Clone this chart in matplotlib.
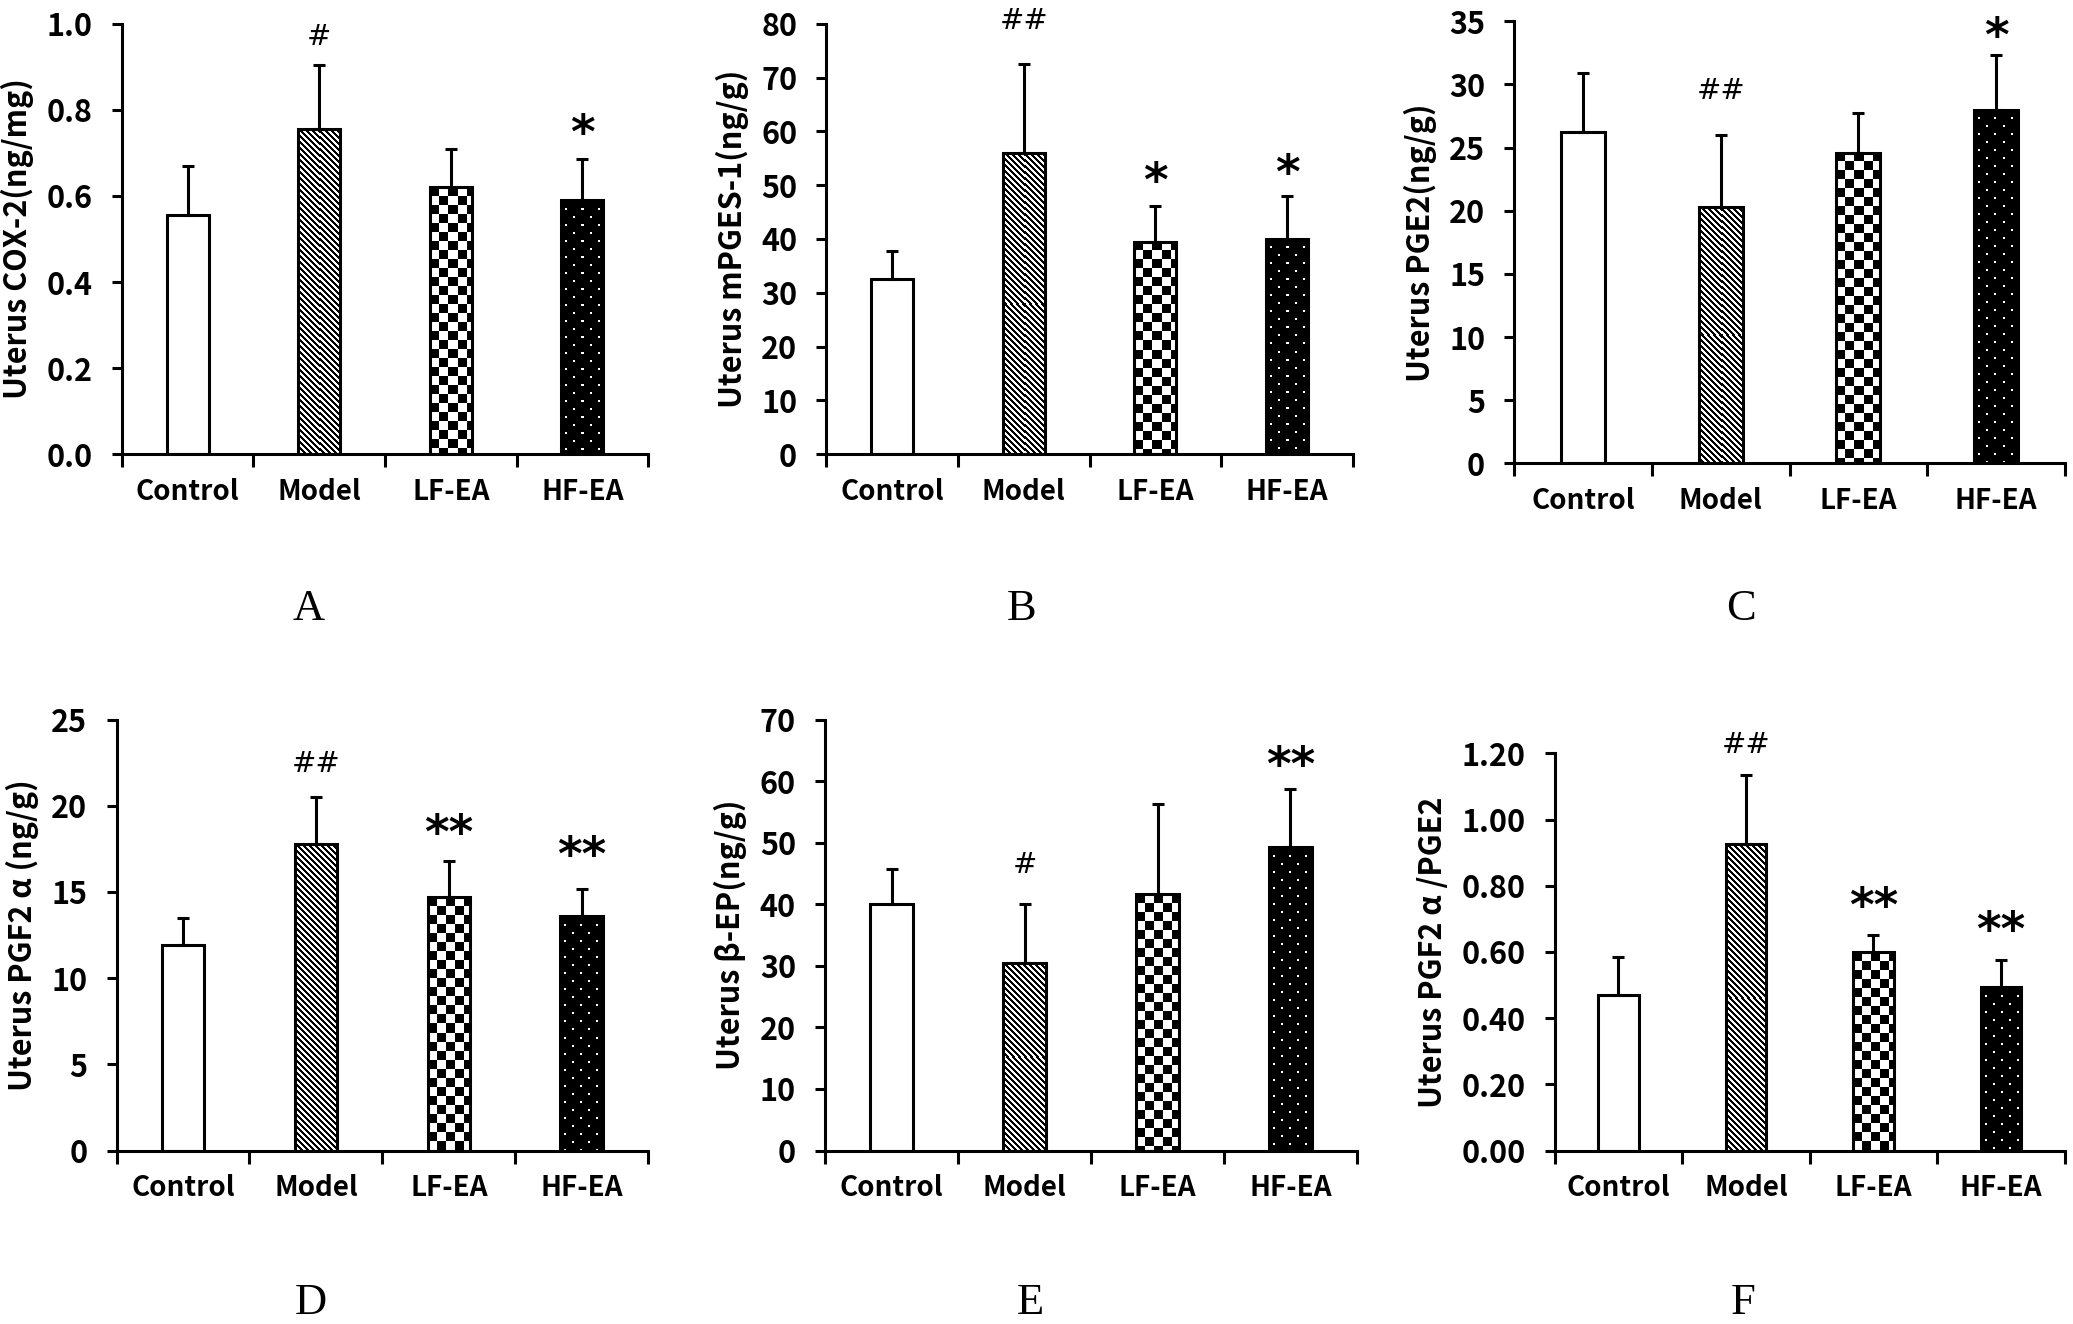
import numpy as np
import matplotlib
matplotlib.use("Agg")
import matplotlib.pyplot as plt

plt.rcParams['font.family'] = ['Noto Sans CJK SC', 'DejaVu Sans']
plt.rcParams['font.weight'] = 'bold'

groups = ["Control", "Model", "LF-EA", "HF-EA"]

# values (mean, upper error)
cox2_mean = [0.555, 0.755, 0.62, 0.59]
cox2_err = [0.115, 0.15, 0.088, 0.096]
mpges_mean = [32.5, 56.0, 39.5, 40.0]
mpges_err = [5.3, 16.5, 6.7, 8.0]
pge2_mean = [26.2, 20.3, 24.6, 28.0]
pge2_err = [4.7, 5.7, 3.1, 4.3]
pgf2a_mean = [11.9, 17.8, 14.7, 13.6]
pgf2a_err = [1.6, 2.7, 2.1, 1.6]
bep_mean = [40.0, 30.4, 41.7, 49.3]
bep_err = [5.8, 9.6, 14.6, 9.4]
ratio_mean = [0.47, 0.925, 0.60, 0.495]
ratio_err = [0.115, 0.21, 0.05, 0.08]

# significance marks and where they sit
cox2_marks = ["", "#", "", "*"]
cox2_mark_y = [0, 0.97, 0, 0.74]
mpges_marks = ["", "##", "*", "*"]
mpges_mark_y = [0, 80.5, 50.3, 51.8]
pge2_marks = ["", "##", "", "*"]
pge2_mark_y = [0, 29.5, 0, 33.6]
pgf2a_marks = ["", "##", "**", "**"]
pgf2a_mark_y = [0, 22.4, 18.3, 17.0]
bep_marks = ["", "#", "", "**"]
bep_mark_y = [0, 46.4, 0, 62.2]
ratio_marks = ["", "##", "**", "**"]
ratio_mark_y = [0, 1.225, 0.73, 0.66]

panels = [
    dict(mean=cox2_mean, err=cox2_err, marks=cox2_marks, mark_y=cox2_mark_y,
         ylabel="Uterus COX-2(ng/mg)", ymax=1.0, step=0.2, fmt="%.1f",
         pos=[0.0588, 0.657, 0.2539, 0.325], letter="A", lpos=(0.149, 0.540)),
    dict(mean=mpges_mean, err=mpges_err, marks=mpges_marks, mark_y=mpges_mark_y,
         ylabel="Uterus mPGES-1(ng/g)", ymax=80, step=10, fmt="%d",
         pos=[0.3986, 0.657, 0.2540, 0.325], letter="B", lpos=(0.493, 0.540)),
    dict(mean=pge2_mean, err=pge2_err, marks=pge2_marks, mark_y=pge2_mark_y,
         ylabel="Uterus PGE2(ng/g)", ymax=35, step=5, fmt="%d",
         pos=[0.7305, 0.650, 0.2655, 0.334], letter="C", lpos=(0.840, 0.540)),
    dict(mean=pgf2a_mean, err=pgf2a_err, marks=pgf2a_marks, mark_y=pgf2a_mark_y,
         ylabel="Uterus PGF2 α (ng/g)", ymax=25, step=5, fmt="%d",
         pos=[0.0562, 0.131, 0.2565, 0.3255], letter="D", lpos=(0.150, 0.016)),
    dict(mean=bep_mean, err=bep_err, marks=bep_marks, mark_y=bep_mark_y,
         ylabel="Uterus β-EP(ng/g)", ymax=70, step=10, fmt="%d",
         pos=[0.398, 0.131, 0.2566, 0.3255], letter="E", lpos=(0.497, 0.016)),
    dict(mean=ratio_mean, err=ratio_err, marks=ratio_marks, mark_y=ratio_mark_y,
         ylabel="Uterus PGF2 α /PGE2", ymax=1.2, step=0.2, fmt="%.2f",
         pos=[0.750, 0.131, 0.246, 0.300], letter="F", lpos=(0.841, 0.016)),
]

LW = 2.2
BAR_W = 0.32


def pattern(kind, h, w):
    yy, xx = np.mgrid[0:h, 0:w]
    if kind == "diag":
        return ((xx - yy) % 6 < 3).astype(float)
    if kind == "checker":
        return ((xx // 9 + yy // 9) % 2 == 0).astype(float)
    # black with white staggered dots
    img = np.ones((h, w))
    row = yy // 8
    dot = (yy % 8 < 2) & ((xx + 8 * (row % 2) + 4) % 16 < 2)
    img[dot] = 0.0
    return img


fig = plt.figure(figsize=(20.73, 13.24), dpi=100)
x = np.arange(len(groups))

for p in panels:
    ax = fig.add_axes(p["pos"])
    ax.set_xlim(-0.5, 3.5)
    ax.set_ylim(0, p["ymax"])

    bars = ax.bar(x, p["mean"], BAR_W, facecolor="white", edgecolor="none", zorder=2)
    for kind, b in zip([None, "diag", "checker", "dots"], bars):
        if kind is None:
            continue
        x0, w, h = b.get_x(), b.get_width(), b.get_height()
        (px0, py0), (px1, py1) = ax.transData.transform([(x0, 0), (x0 + w, h)])
        wpx = max(int(round(px1 - px0)), 1)
        hpx = max(int(round(py1 - py0)), 1)
        im = ax.imshow(pattern(kind, hpx, wpx), cmap="gray_r", vmin=0, vmax=1,
                       extent=[x0, x0 + w, 0, h], aspect="auto",
                       interpolation="nearest", zorder=2.5)
        im.set_clip_path(b)
    ax.bar(x, p["mean"], BAR_W, fill=False, edgecolor="black", linewidth=LW, zorder=3)
    ax.errorbar(x, p["mean"], yerr=[np.zeros(4), p["err"]], fmt="none",
                ecolor="black", elinewidth=LW, capsize=4, capthick=LW, zorder=4)

    ax.set_xlim(-0.5, 3.5)
    ax.set_ylim(0, p["ymax"])

    for xi, s, yv in zip(x, p["marks"], p["mark_y"]):
        if not s:
            continue
        if "#" in s:
            ax.text(xi, yv, s, ha="center", va="center", fontsize=21,
                    fontweight="normal", family="DejaVu Sans", clip_on=False)
        else:
            ax.text(xi, yv, s, ha="center", va="center", fontsize=34,
                    fontweight="bold", family="DejaVu Sans", clip_on=False)

    yt = np.arange(0, p["ymax"] + p["step"] / 2, p["step"])
    ax.set_yticks(yt)
    ax.set_yticklabels([p["fmt"] % v for v in yt])
    ax.set_xticks([-0.5, 0.5, 1.5, 2.5, 3.5])
    ax.set_xticklabels([])
    ax.set_xticks(x, minor=True)
    ax.set_xticklabels(groups, minor=True)
    ax.tick_params(axis="x", which="major", direction="out", length=9, width=LW)
    ax.tick_params(axis="x", which="minor", length=0, pad=17, labelsize=20)
    ax.tick_params(axis="y", direction="out", length=7, width=LW, labelsize=22, pad=14)

    for side in ["top", "right"]:
        ax.spines[side].set_visible(False)
    for side in ["left", "bottom"]:
        ax.spines[side].set_linewidth(LW)

    ax.set_ylabel(p["ylabel"], fontsize=22, fontweight="bold", labelpad=9)

    fig.text(p["lpos"][0], p["lpos"][1], p["letter"], ha="center", va="center",
             fontsize=32, family="Liberation Serif", fontweight="normal")

fig.savefig("out.png", dpi=100)
